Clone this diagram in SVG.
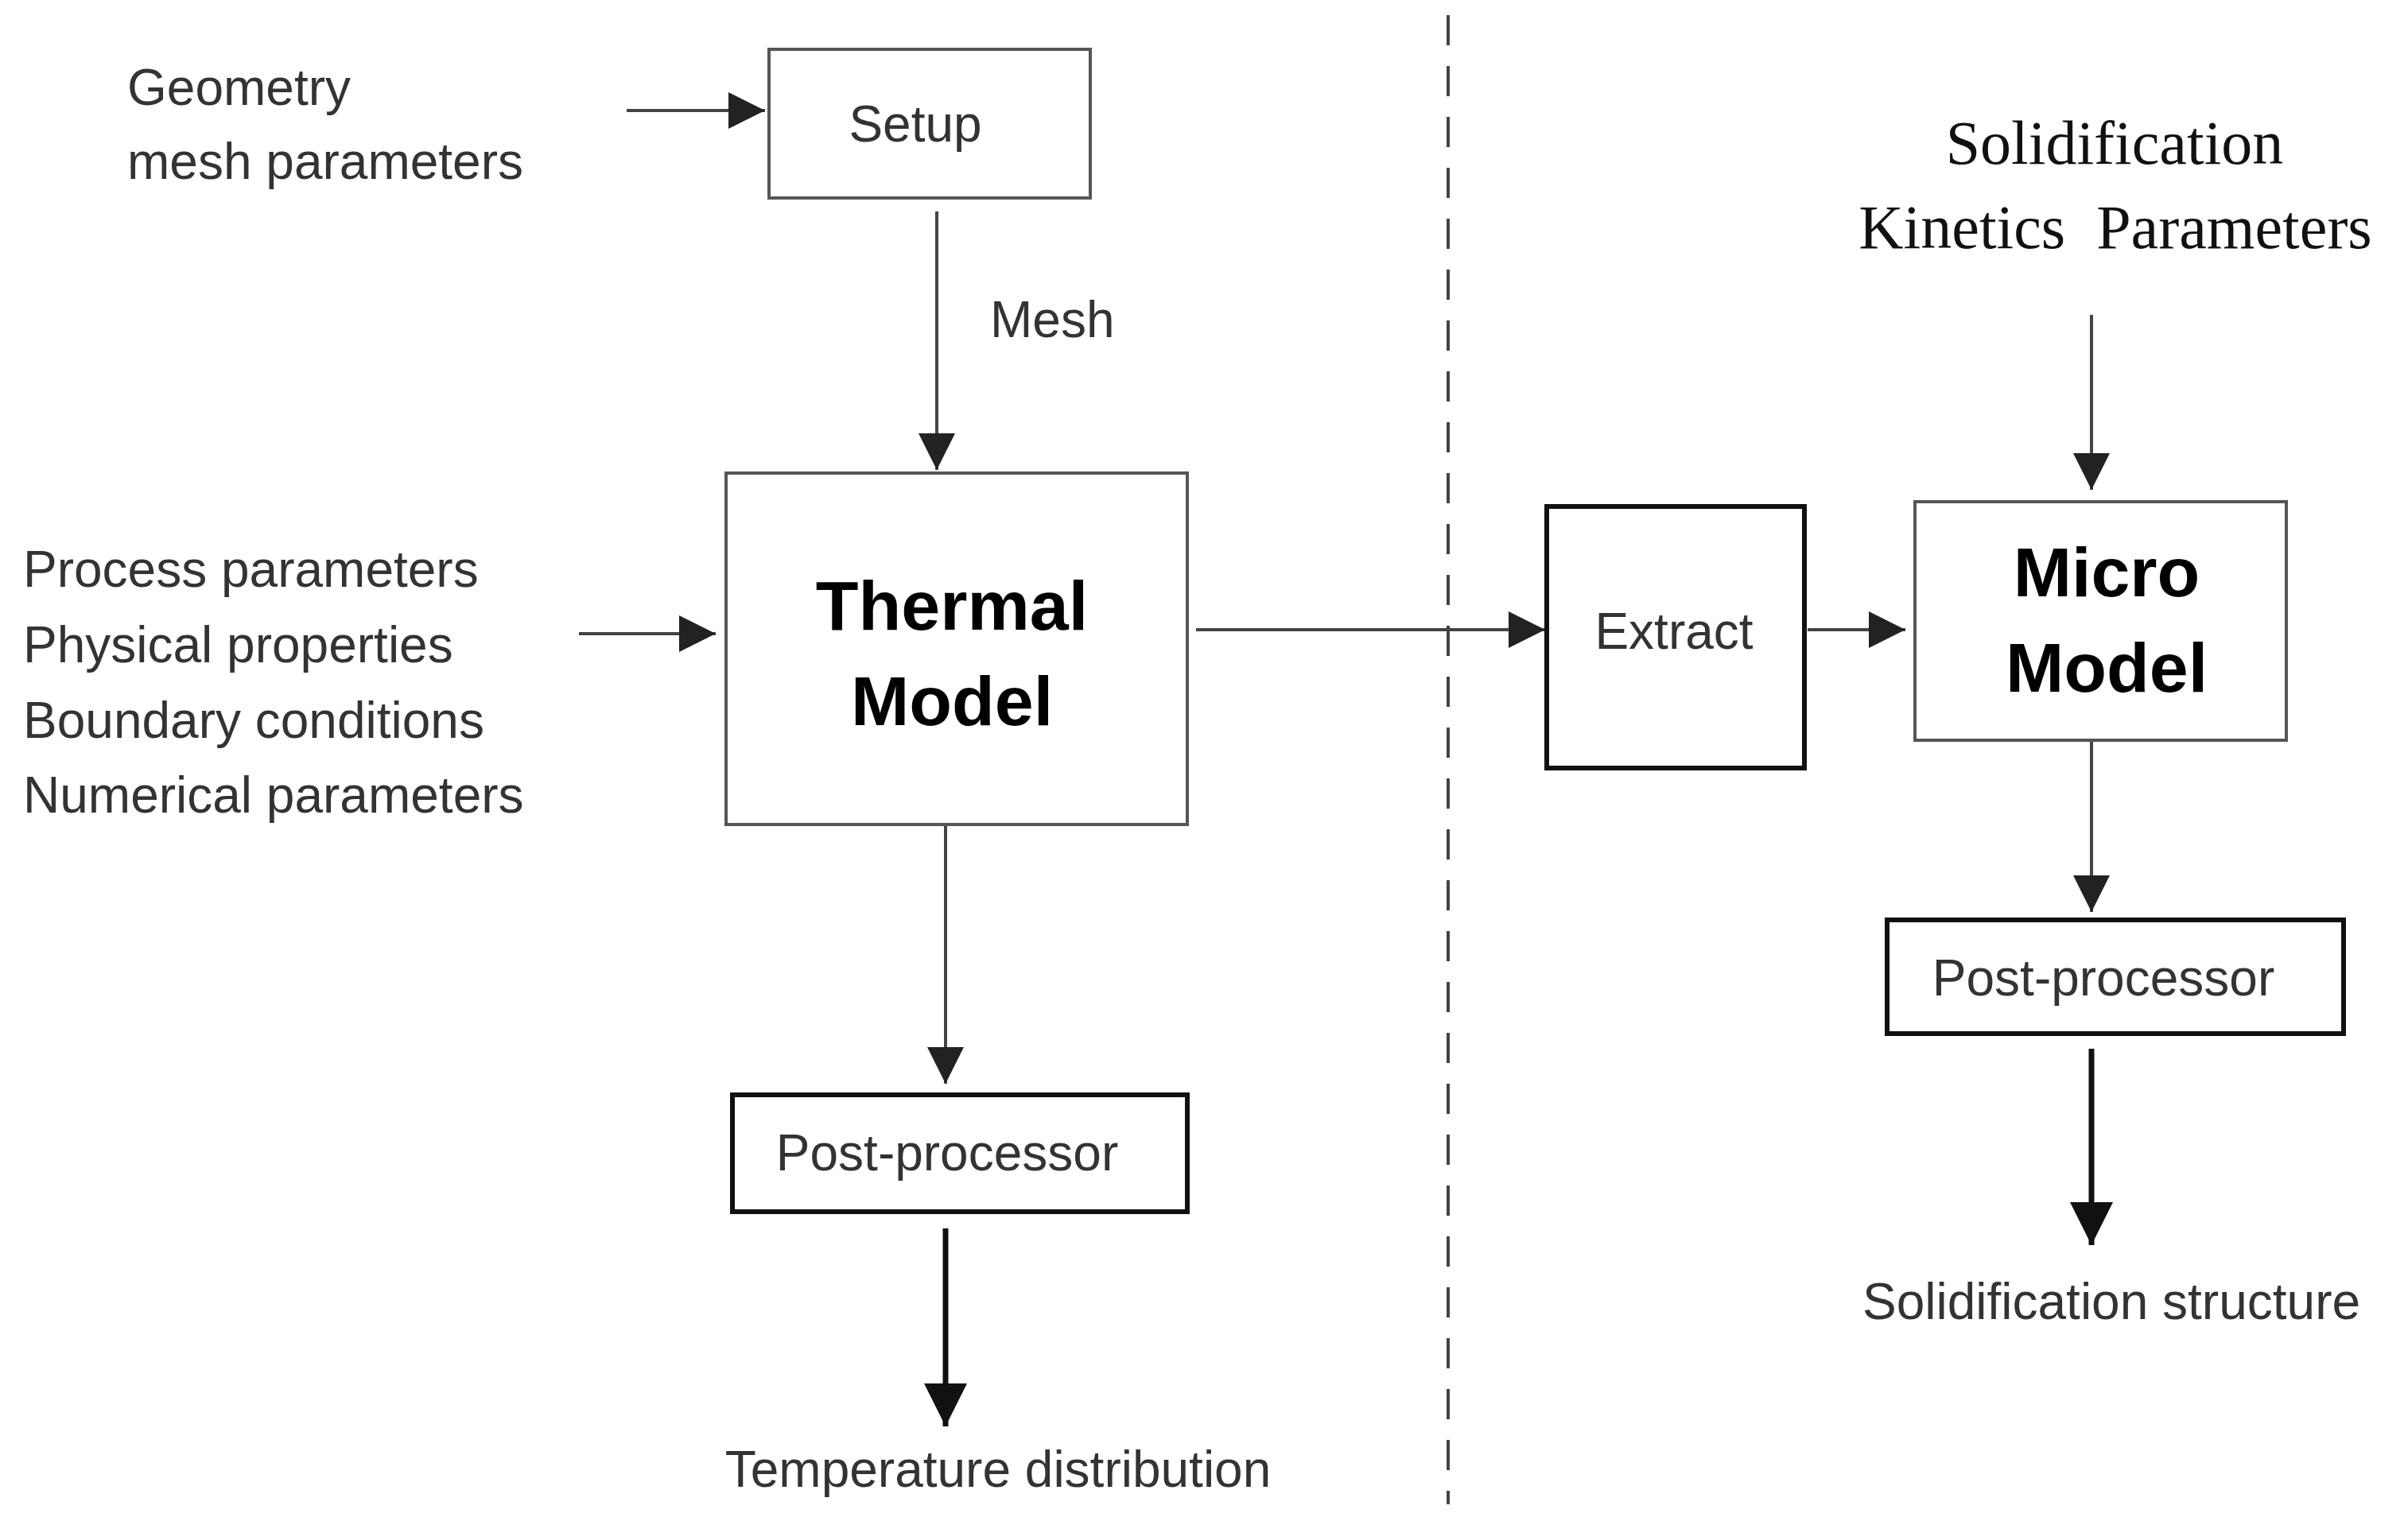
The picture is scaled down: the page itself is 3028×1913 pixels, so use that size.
<svg xmlns="http://www.w3.org/2000/svg" width="3028" height="1913" viewBox="0 0 3028 1913">
<style>
.b{fill:#fff;stroke:#555;stroke-width:4}
.bk{fill:#fff;stroke:#111;stroke-width:6}
.t{font-family:"Liberation Sans",Arial,sans-serif;font-size:64px;fill:#333}
.c{text-anchor:middle}
.h{font-weight:bold;font-size:88px;fill:#000}
.s{font-family:"Liberation Serif","Times New Roman",serif;font-size:78px;fill:#111;text-anchor:middle;white-space:pre}
.l{stroke:#444;stroke-width:4;fill:none}
.k{stroke:#111;stroke-width:7;fill:none}
</style>
<defs>
<marker id="m" viewBox="0 0 10 10" refX="10" refY="5" markerWidth="58" markerHeight="46" markerUnits="userSpaceOnUse" orient="auto"><path d="M0,0L10,5L0,10z" fill="#222"/></marker>
<marker id="M" viewBox="0 0 10 10" refX="10" refY="5" markerWidth="66" markerHeight="54" markerUnits="userSpaceOnUse" orient="auto"><path d="M0,0L10,5L0,10z" fill="#111"/></marker>
</defs>
<rect width="3028" height="1913" fill="#fff"/>
<g id="connectors">
<line x1="1821" y1="19" x2="1821" y2="1892" stroke="#444" stroke-width="4" stroke-dasharray="38,26"/>
<line class="l" x1="788" y1="139" x2="962" y2="139" marker-end="url(#m)"/>
<line class="l" x1="1178" y1="266" x2="1178" y2="591" marker-end="url(#m)"/>
<line class="l" x1="728" y1="797" x2="900" y2="797" marker-end="url(#m)"/>
<line class="l" x1="1189" y1="1037" x2="1189" y2="1363" marker-end="url(#m)"/>
<line class="k" x1="1189" y1="1545" x2="1189" y2="1794" marker-end="url(#M)"/>
<line class="l" x1="1504" y1="792" x2="1943" y2="792" marker-end="url(#m)"/>
<line class="l" x1="2273" y1="792" x2="2396" y2="792" marker-end="url(#m)"/>
<line class="l" x1="2630" y1="396" x2="2630" y2="616" marker-end="url(#m)"/>
<line class="l" x1="2630" y1="933" x2="2630" y2="1147" marker-end="url(#m)"/>
<line class="k" x1="2630" y1="1319" x2="2630" y2="1566" marker-end="url(#M)"/>
</g>
<g id="setup"><rect class="b" x="967" y="62" width="404" height="187"/><text class="t c" x="1151" y="178">Setup</text></g>
<g id="thermal"><rect class="b" x="913" y="595" width="580" height="442"/><text class="t c h" x="1197" y="792">Thermal</text><text class="t c h" x="1197" y="912">Model</text></g>
<g id="post1"><rect class="bk" x="921" y="1377" width="572" height="147"/><text class="t c" x="1191" y="1472">Post-processor</text></g>
<g id="extract"><rect class="bk" x="1945" y="637" width="324" height="329"/><text class="t c" x="2105" y="816">Extract</text></g>
<g id="micro"><rect class="b" x="2408" y="631" width="467" height="300"/><text class="t c h" x="2649" y="750">Micro</text><text class="t c h" x="2649" y="870">Model</text></g>
<g id="post2"><rect class="bk" x="2373" y="1157" width="574" height="143"/><text class="t c" x="2645" y="1252">Post-processor</text></g>
<g id="labels">
<text class="t" x="160" y="132">Geometry</text>
<text class="t" x="160" y="225">mesh parameters</text>
<text class="t" x="1245" y="424">Mesh</text>
<text class="t" x="29" y="738">Process parameters</text>
<text class="t" x="29" y="833">Physical properties</text>
<text class="t" x="29" y="928">Boundary conditions</text>
<text class="t" x="29" y="1022">Numerical parameters</text>
<text class="t c" x="1255" y="1870">Temperature distribution</text>
<text class="s" x="2659" y="206">Solidification</text>
<text class="s" x="2660" y="312">Kinetics  Parameters</text>
<text class="t c" x="2655" y="1659">Solidification structure</text>
</g>
</svg>
